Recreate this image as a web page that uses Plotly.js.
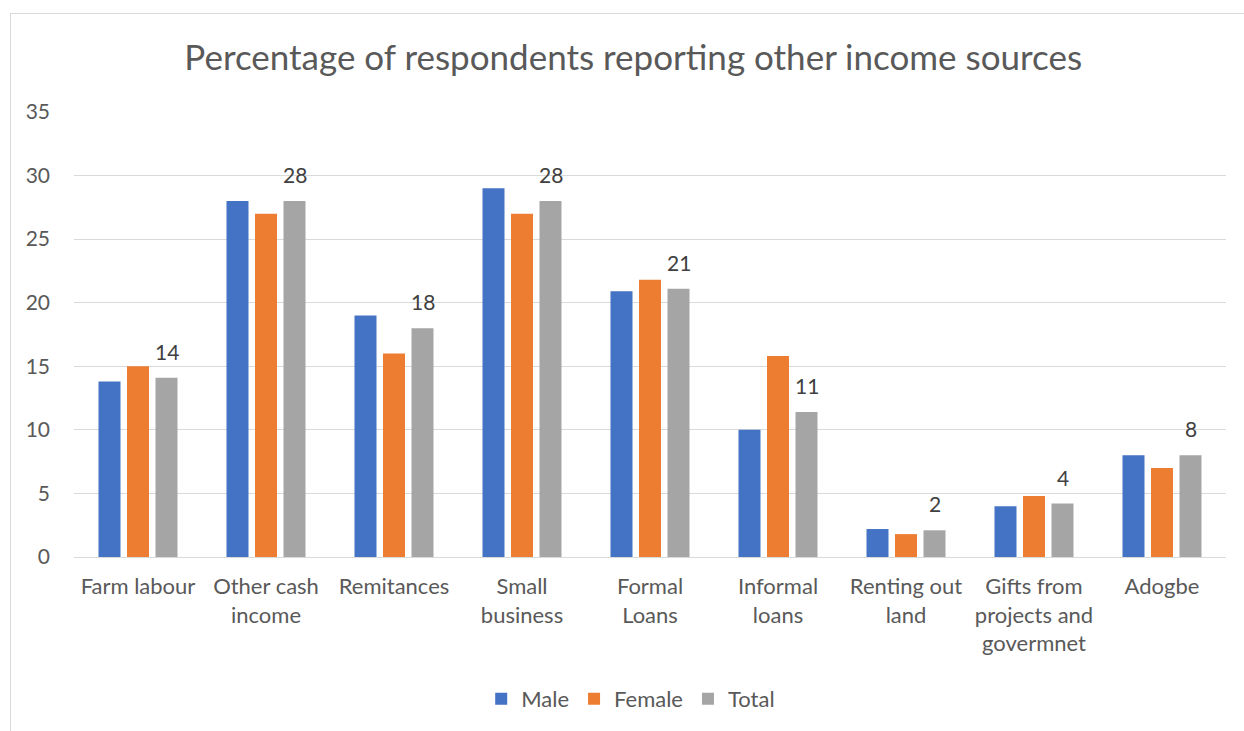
<!DOCTYPE html>
<html>
<head>
<meta charset="utf-8">
<script src="https://cdn.plot.ly/plotly-3.0.1.min.js"></script>
<style>
  html, body { margin: 0; padding: 0; background: #ffffff; overflow: hidden; }
  #chart { position: absolute; left: 0; top: 0; width: 1244px; height: 731px; }
  #frame { position: absolute; left: 10px; top: 13px; width: 1250px; height: 740px;
           border-left: 1px solid #d9d9d9; border-top: 1px solid #d9d9d9; pointer-events: none; }
</style>
</head>
<body>
<div id="chart"></div>
<div id="frame"></div>
<script>
const categories = [
  "Farm labour",
  "Other cash<br>income",
  "Remitances",
  "Small<br>business",
  "Formal<br>Loans",
  "Informal<br>loans",
  "Renting out<br>land",
  "Gifts from<br>projects and<br>govermnet",
  "Adogbe"
];
const maleValues   = [13.8, 28, 19, 29, 20.9, 10, 2.2, 4, 8];
const femaleValues = [15, 27, 16, 27, 21.8, 15.8, 1.8, 4.8, 7];
const totalValues  = [14.1, 28, 18, 28, 21.1, 11.4, 2.1, 4.2, 8];
const totalLabels  = ["14", "28", "18", "28", "21", "11", "2", "4", "8"];
const yTicks = [0, 5, 10, 15, 20, 25, 30, 35];

const FONT = "Lato, 'Open Sans', sans-serif";
const TXT = "#595959";

const traces = [
  { type: "bar", name: "Male", x: categories, y: maleValues,
    marker: { color: "#4472C4", line: { width: 0 } }, hoverinfo: "skip" },
  { type: "bar", name: "Female", x: categories, y: femaleValues,
    marker: { color: "#ED7D31", line: { width: 0 } }, hoverinfo: "skip" },
  { type: "bar", name: "Total", x: categories, y: totalValues,
    marker: { color: "#A5A5A5", line: { width: 0 } }, hoverinfo: "skip" }
];

const annotations = categories.map((c, i) => ({
  x: c, y: totalValues[i], xref: "x", yref: "y",
  text: totalLabels[i], showarrow: false,
  xanchor: "center", yanchor: "bottom",
  xshift: 28.5, yshift: 12,
  font: { family: FONT, size: 21, color: "#404040" }
}));

const layout = {
  width: 1244, height: 731,
  margin: { l: 74, r: 18, t: 112, b: 174, pad: 0 },
  paper_bgcolor: "rgba(0,0,0,0)",
  plot_bgcolor: "rgba(0,0,0,0)",
  font: { family: FONT, size: 21, color: TXT },
  title: {
    text: "Percentage of respondents reporting other income sources",
    font: { family: FONT, size: 35, color: TXT },
    x: 0.509, xref: "container", xanchor: "center",
    y: 0.921, yref: "container", yanchor: "middle"
  },
  barmode: "group",
  bargap: 0.332,
  bargroupgap: 0.228,
  xaxis: {
    type: "category",
    showgrid: false, zeroline: false,
    showline: false, ticks: "",
    ticklabelstandoff: 14,
    tickfont: { family: FONT, size: 22, color: TXT }
  },
  yaxis: {
    range: [0, 35],
    tickvals: yTicks,
    ticktext: yTicks.map(String),
    showgrid: true, gridcolor: "#d9d9d9", gridwidth: 1,
    zeroline: true, zerolinecolor: "#d9d9d9", zerolinewidth: 1,
    showline: false, ticks: "",
    ticklabelstandoff: 23,
    tickfont: { family: FONT, size: 21, color: TXT }
  },
  legend: {
    orientation: "h",
    x: 0.507, xref: "container", xanchor: "center",
    y: 1 - 699 / 731, yref: "container", yanchor: "middle",
    font: { family: FONT, size: 22, color: TXT },
    itemwidth: 30,
    traceorder: "normal"
  },
  annotations: annotations,
  showlegend: true
};

Plotly.newPlot("chart", traces, layout, { staticPlot: true, displayModeBar: false });
</script>
</body>
</html>
